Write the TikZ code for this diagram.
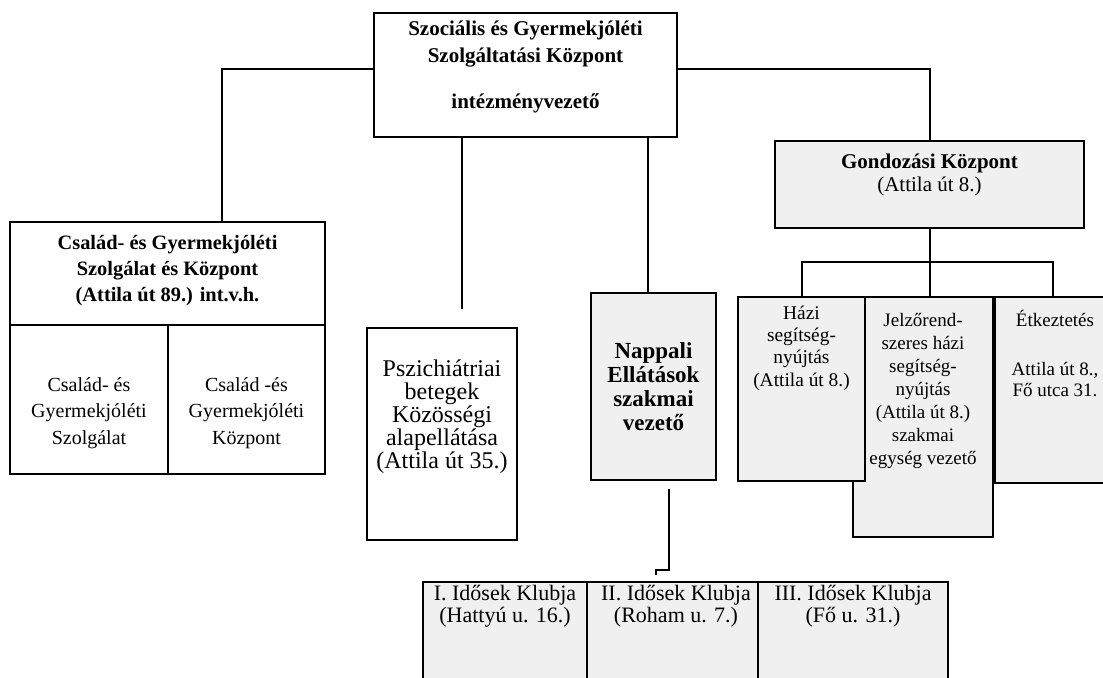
\documentclass[tikz,border=0pt]{standalone}
\usepackage{fontspec}
\setmainfont{Liberation Serif}
\usetikzlibrary{positioning}

\begin{document}
\begin{tikzpicture}[x=0.5pt, y=-0.5pt,
		unit/.style = {rectangle, draw, line width=1pt, inner sep=0pt, fill=white},
		shaded/.style = {unit, fill=black!6},
		lbl/.style = {align=center, inner sep=0pt, font=\fontsize{10}{13.2}\selectfont},
		boldlbl/.style = {lbl, font=\fontsize{10.5}{13.5}\selectfont\bfseries},
		link/.style = {-, line width=1pt}]
	\useasboundingbox (0,0) rectangle (1103,677);

	% boxes
	\node[unit, minimum width=151.5pt, minimum height=62pt] (szk) at (525.5,75) {};
	\node[unit, minimum width=157.5pt, minimum height=51.5pt] (csgy) at (167.5,273.5) {};
	\node[unit, minimum width=79pt, minimum height=74.5pt] (csgysz) at (89,399.5) {};
	\node[unit, minimum width=78.5pt, minimum height=74.5pt] (csgyk) at (246.5,399.5) {};
	\node[unit, minimum width=75pt, minimum height=106pt] (pszich) at (442,434) {};
	\node[shaded, minimum width=62.5pt, minimum height=93.5pt] (nappali) at (653.5,386.5) {};
	\node[shaded, minimum width=154.5pt, minimum height=43.5pt] (gondoz) at (929.5,184.5) {};
	\node[shaded, minimum width=70pt, minimum height=120pt] (jelzo) at (923,417) {};
	\node[shaded, minimum width=63.5pt, minimum height=92pt] (hazi) at (801.5,389) {};
	\node[shaded, minimum width=57.5pt, minimum height=93pt] (etkez) at (1052.5,390) {};
	\node[shaded, minimum width=82pt, minimum height=59pt] (klub1) at (505,641) {};
	\node[shaded, minimum width=85.5pt, minimum height=59pt] (klub2) at (672.5,641) {};
	\node[shaded, minimum width=95pt, minimum height=59pt] (klub3) at (853,641) {};

	% texts
	\node[boldlbl] (szk-t) at (525.5,66.5) {Szociális és Gyermekjóléti\\Szolgáltatási Központ\\[9.5pt]intézményvezető};
	\node[boldlbl, font=\fontsize{10.2}{13}\selectfont\bfseries] (csgy-t) at (167.5,271) {Család- és Gyermekjóléti\\Szolgálat és Központ\\(Attila út 89.) int.v.h.};
	\node[lbl] (csgysz-t) at (89,413) {Család- és\\Gyermekjóléti\\Szolgálat};
	\node[lbl] (csgyk-t) at (246.5,413) {Család -és\\Gyermekjóléti\\Központ};
	\node[lbl, font=\fontsize{12}{11.5}\selectfont] (pszich-t) at (442,417) {Pszichiátriai\\betegek\\Közösségi\\alapellátása\\(Attila út 35.)};
	\node[boldlbl, font=\fontsize{11.5}{12}\selectfont\bfseries] (nappali-t) at (653.5,387) {Nappali\\Ellátások\\szakmai\\vezető};
	\node[lbl, font=\fontsize{10.5}{11.5}\selectfont] (gondoz-t) at (929.5,175) {{\bfseries Gondozási Központ}\\(Attila út 8.)};
	\node[lbl, font=\fontsize{9.7}{11.2}\selectfont] (hazi-t) at (801.5,348) {Házi\\segítség-\\nyújtás\\(Attila út 8.)};
	\node[lbl, font=\fontsize{9.5}{11.5}\selectfont] (jelzo-t) at (923,391) {Jelzőrend-\\szeres házi\\segítség-\\nyújtás\\(Attila út 8.)\\szakmai\\egység vezető};
	\node[lbl, font=\fontsize{9.5}{10.5}\selectfont] (etkez-t) at (1055,353) {Étkeztetés\\[14pt]Attila út 8.,\\Fő utca 31.};
	\node[lbl, font=\fontsize{11}{11}\selectfont] (klub1-t) at (505,606) {I. Idősek Klubja\\(Hattyú u. 16.)};
	\node[lbl, font=\fontsize{11}{11}\selectfont] (klub2-t) at (676,606) {II. Idősek Klubja\\(Roham u. 7.)};
	\node[lbl, font=\fontsize{11}{11}\selectfont] (klub3-t) at (853,606) {III. Idősek Klubja\\(Fő u. 31.)};

	% connectors
	\coordinate (hook) at (656,570);
	\draw[link] ([yshift=3pt]szk.west) -| ([xshift=27.25pt]csgy.north);
	\draw[link] ([yshift=3pt]szk.east) -| (gondoz.north);
	\draw[link, shorten >=9pt] ([xshift=-31.75pt]szk.south) -- ([xshift=10pt]pszich.north);
	\draw[link] ([xshift=61pt]szk.south) -- ([xshift=61pt]szk.south |- nappali.north);
	\draw[link, shorten <=4pt] ([xshift=7.5pt]nappali.south) |- (hook) -- ++(0,5);
	\draw[link] (gondoz.south) -- (gondoz.south |- jelzo.north);
	\draw[link] (hazi.north) -- ++(0,-34) -| (etkez.north);
\end{tikzpicture}
\end{document}
